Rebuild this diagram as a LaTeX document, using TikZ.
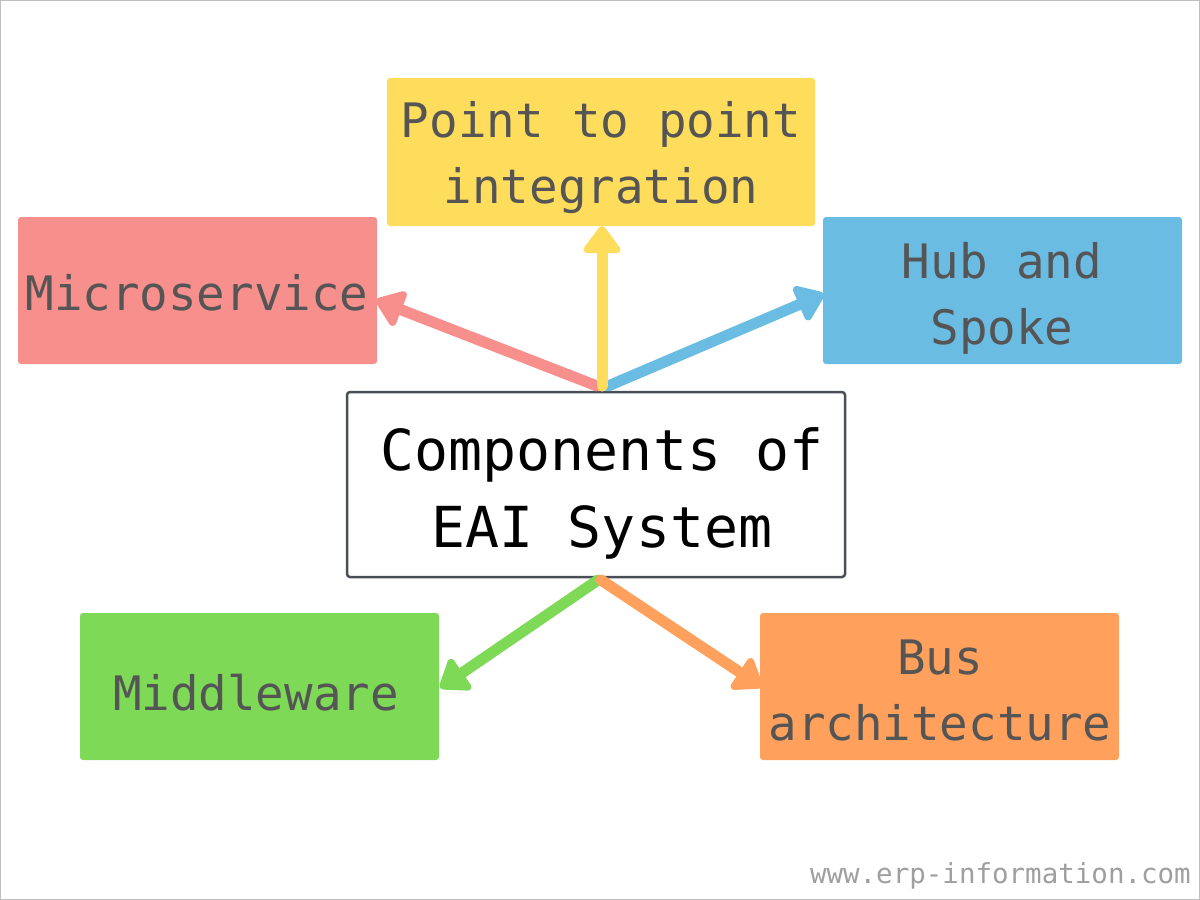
\documentclass[tikz,border=0pt]{standalone}
\usepackage{fontspec}
\setmonofont{DejaVu Sans Mono}
\usetikzlibrary{arrows.meta}
\definecolor{cyel}{HTML}{FFDD5C}
\definecolor{cred}{HTML}{F78F8D}
\definecolor{cblu}{HTML}{6BBCE3}
\definecolor{cgrn}{HTML}{7ED957}
\definecolor{corg}{HTML}{FFA05C}
\definecolor{ctxt}{HTML}{555555}
\definecolor{cbord}{HTML}{4A4F57}
\tikzset{
  comp/.style={rounded corners=3pt, draw=none, align=center, text=ctxt,
    font=\ttfamily\fontsize{47.5}{66}\selectfont, inner sep=0pt},
  conn/.style={line width=11pt, line cap=round, -{Triangle[length=30pt,width=42pt,round]}},
}
\begin{document}
\begin{tikzpicture}[x=1pt,y=-1pt]
\useasboundingbox (0,0) rectangle (1200,900);
\draw[gray!50, line width=1pt] (0.5,0.5) rectangle (1199.5,899.5);
% boxes
\fill[cyel, rounded corners=3pt] (387,78) rectangle (815,226);
\node[comp] (ptp) at (601,158) {Point to point\\integration};
\fill[cred, rounded corners=3pt] (18,217) rectangle (377,364);
\node[comp] (micro) at (197,293) {Microservice};
\fill[cblu, rounded corners=3pt] (823,217) rectangle (1182,364);
\node[comp] (hub) at (1002,298) {Hub and\\Spoke};
\fill[cgrn, rounded corners=3pt] (80,613) rectangle (439,760);
\node[comp] (mid) at (256,693) {Middleware};
\fill[corg, rounded corners=3pt] (760,613) rectangle (1119,760);
\node[comp] (bus) at (940,691) {Bus\\architecture};
% centre
\draw[cbord, line width=2.5pt, fill=white, rounded corners=3pt] (347,392) rectangle (845,577);
\node[align=center, font=\ttfamily\fontsize{56.5}{77}\selectfont, inner sep=0pt] (ctr) at (602,493) {Components of\\EAI System};
% anchor coordinates
\coordinate (top1) at (597,386);
\coordinate (top2) at (602,386);
\coordinate (top3) at (608,386);
\coordinate (bot1) at (598,580);
\coordinate (bot2) at (601,580);
\coordinate (tptp) at (602,226);
\coordinate (tmic) at (376,300);
\coordinate (thub) at (824,294);
\coordinate (tmid) at (440,688);
\coordinate (tbus) at (762,687);
\draw[conn, draw=cred, fill=cred] (top1) -- (tmic);
\draw[conn, draw=cblu, fill=cblu] (top3) -- (thub);
\draw[conn, draw=cyel, fill=cyel] (top2) -- (tptp);
\draw[conn, draw=cgrn, fill=cgrn] (bot1) -- (tmid);
\draw[conn, draw=corg, fill=corg] (bot2) -- (tbus);
% watermark
\node[anchor=east, text=gray!75, font=\ttfamily\fontsize{27.5}{30}\selectfont, inner sep=0pt] (wm) at (1191,876) {www.erp-information.com};
\end{tikzpicture}
\end{document}
